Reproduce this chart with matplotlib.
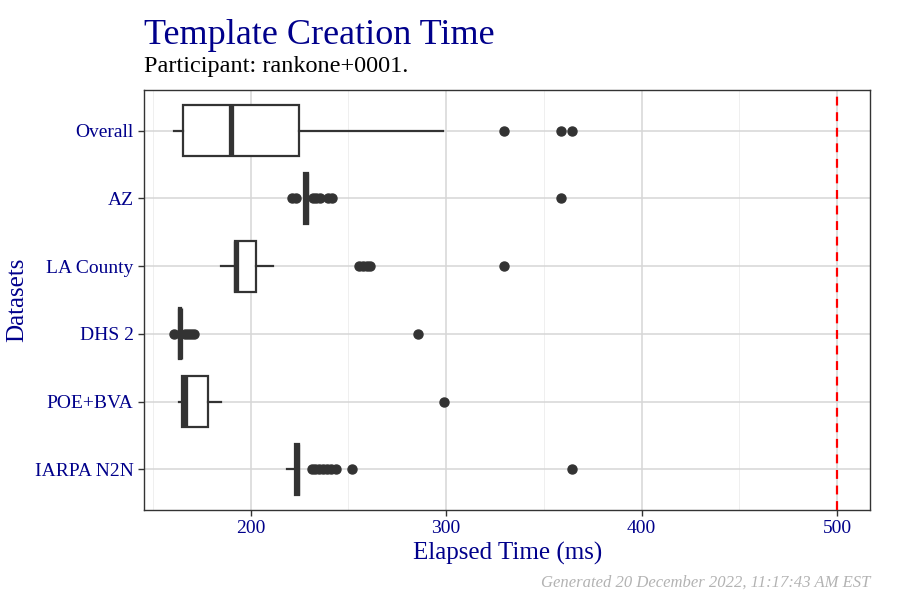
import numpy as np
import matplotlib
matplotlib.use("Agg")
import matplotlib.pyplot as plt
from matplotlib.ticker import MultipleLocator

plt.rcParams['font.family'] = ['Liberation Serif', 'DejaVu Serif']

# datasets, top to bottom as drawn
datasets = ["Overall", "AZ", "LA County", "DHS 2", "POE+BVA", "IARPA N2N"]

# box stats (ms)
whislo = [161, 227.5, 185, 163.5, 163.6, 218.5]
q1 = [165.7, 227.5, 191.8, 163.5, 165.0, 222.8]
med = [190.0, 228.4, 192.6, 164.0, 166.4, 223.8]
q3 = [225.0, 229.4, 202.7, 164.6, 178.0, 225.0]
whishi = [298.5, 229.4, 211.7, 164.6, 185.0, 225.0]
fliers = [
    [329.4, 358.6, 364.2],
    [221.2, 223.3, 232.0, 233.6, 235.5, 239.8, 241.5, 358.6],
    [255.5, 257.5, 259.5, 261.0, 329.4],
    [160.8, 166.5, 168.0, 169.5, 171.0, 285.6],
    [299.0],
    [231.5, 233.0, 235.0, 237.0, 239.0, 241.0, 243.5, 251.8, 364.2],
]
threshold = 500

stats = []
for i in range(len(datasets)):
    stats.append(dict(label=datasets[i], whislo=whislo[i], q1=q1[i], med=med[i],
                      q3=q3[i], whishi=whishi[i], fliers=fliers[i]))

fig = plt.figure(figsize=(9, 6), dpi=100)
ax = fig.add_axes([0.16, 0.15, 0.807, 0.70])

ink = "#333333"
navy = "#00008B"
pos = np.arange(len(datasets), 0, -1)

ax.bxp(stats, positions=pos, vert=False, widths=0.75, showcaps=False,
       boxprops=dict(edgecolor=ink, linewidth=1.6, facecolor="white"),
       whiskerprops=dict(color=ink, linewidth=1.6),
       medianprops=dict(color=ink, linewidth=3.8, solid_capstyle="butt"),
       flierprops=dict(marker="o", markerfacecolor=ink, markeredgecolor=ink,
                       markersize=6.5, linestyle="none"),
       patch_artist=True, zorder=3)

ax.axvline(threshold, color="red", linestyle=(0, (4, 3)), linewidth=1.6, zorder=4)

ax.set_xlim(145.5, 517)
ax.set_ylim(0.4, 6.6)
ax.xaxis.set_minor_locator(MultipleLocator(50))
ax.set_xticks([200, 300, 400, 500])
ax.set_yticks(pos)
ax.set_yticklabels(datasets)
ax.tick_params(axis="both", which="major", colors=ink, labelcolor=navy,
               labelsize=14, length=4, width=1)
ax.tick_params(axis="x", which="minor", length=0)
ax.grid(True, which="major", color="#d6d6d6", linewidth=1.1, zorder=0)
ax.grid(True, which="minor", axis="x", color="#ececec", linewidth=0.6, zorder=0)
ax.set_axisbelow(True)
for sp in ax.spines.values():
    sp.set_color(ink)
    sp.set_linewidth(1.0)

ax.set_xlabel("Elapsed Time (ms)", color=navy, fontsize=18, labelpad=3)
ax.set_ylabel("Datasets", color=navy, fontsize=18, labelpad=5)

fig.text(0.16, 0.927, "Template Creation Time", color=navy, fontsize=26,
         ha="left", va="baseline")
fig.text(0.16, 0.88, "Participant: rankone+0001.", color="black", fontsize=17.5,
         ha="left", va="baseline")
fig.text(0.967, 0.022, "Generated 20 December 2022, 11:17:43 AM EST",
         color="#b3b3b3", fontsize=12, style="italic", ha="right", va="baseline")

fig.savefig("out.png", dpi=100)
